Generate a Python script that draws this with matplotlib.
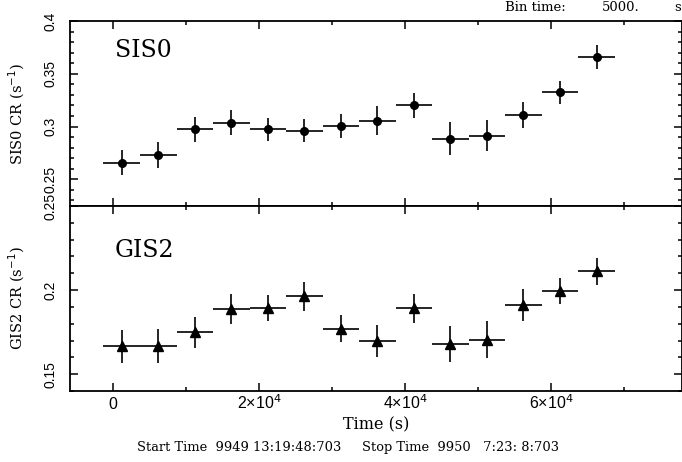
# -*- coding: utf-8 -*-
"""
SIS0 / GIS2 light curves (5000 s bins), PGPLOT-like layout
"""
import matplotlib
matplotlib.use('Agg')
import matplotlib.pyplot as plt
from matplotlib.ticker import MultipleLocator, FixedLocator, FormatStrFormatter

# bin centres (s) and half bin width
time_s = [1230, 6230, 11230, 16230, 21230, 26230, 31230,
          36230, 41230, 46230, 51230, 56230, 61230, 66230]
half_bin = 2500

# SIS0 count rate (s^-1)
sis0_rate = [0.2658, 0.2729, 0.2972, 0.3038, 0.2975, 0.2962, 0.3004,
             0.3054, 0.3200, 0.2886, 0.2912, 0.3108, 0.3323, 0.3658]
sis0_err = [0.0115, 0.0126, 0.0123, 0.0114, 0.0108, 0.0110, 0.0114,
            0.0136, 0.0119, 0.0155, 0.0147, 0.0121, 0.0107, 0.0112]

# GIS2 count rate (s^-1)
gis2_rate = [0.1665, 0.1668, 0.1748, 0.1887, 0.1893, 0.1964, 0.1770,
             0.1698, 0.1891, 0.1679, 0.1706, 0.1911, 0.1996, 0.2111]
gis2_err = [0.0096, 0.0103, 0.0093, 0.0091, 0.0077, 0.0086, 0.0080,
            0.0097, 0.0087, 0.0107, 0.0109, 0.0094, 0.0078, 0.0082]

x_ticks = [0, 20000, 40000, 60000]
x_ticklabels = ['0', '2×10$^4$', '4×10$^4$', '6×10$^4$']

plt.rcParams['font.family'] = ['Liberation Sans', 'DejaVu Sans']
plt.rcParams['mathtext.fontset'] = 'dejavusans'

fig = plt.figure(figsize=(6.82, 4.62), dpi=100, facecolor='w')
ax1 = fig.add_axes([70 / 682, 1 - 206 / 462, 611.5 / 682, 185 / 462])
ax2 = fig.add_axes([70 / 682, 1 - 391 / 462, 611.5 / 682, 185 / 462])

ax1.errorbar(time_s, sis0_rate, xerr=half_bin, yerr=sis0_err, fmt='o',
             color='black', ms=5.5, elinewidth=1.2, capsize=0)
ax2.errorbar(time_s, gis2_rate, xerr=half_bin, yerr=gis2_err, fmt='^',
             color='black', ms=7.5, elinewidth=1.2, capsize=0)

ax1.set_ylim(0.2247, 0.4)
ax2.set_ylim(0.14, 0.25)

for ax in (ax1, ax2):
    ax.set_xlim(-5850, 77860)
    ax.xaxis.set_major_locator(FixedLocator(x_ticks))
    ax.xaxis.set_minor_locator(MultipleLocator(10000))
    ax.yaxis.set_major_locator(MultipleLocator(0.05))
    ax.yaxis.set_minor_locator(MultipleLocator(0.01))
    ax.yaxis.set_major_formatter(FormatStrFormatter('%g'))
    ax.tick_params(which='both', direction='in', top=True, right=True,
                   width=1.1, labelsize=10)
    ax.tick_params(which='major', length=6)
    ax.tick_params(which='minor', length=3)
    ax.tick_params(axis='y', pad=9)
    for lbl in ax.get_yticklabels():
        lbl.set_rotation(90)
        lbl.set_va('center')
    for sp in ax.spines.values():
        sp.set_linewidth(1.3)

ax1.tick_params(labelbottom=False)
ax2.set_xticklabels(x_ticklabels, va='baseline', fontsize=11.5)
ax2.tick_params(axis='x', pad=13.3)

serif = ['DejaVu Serif']
ax1.text(0.0736, 0.805, 'SIS0', transform=ax1.transAxes, fontsize=17,
         family=serif, va='baseline')
ax2.text(0.0736, 0.724, 'GIS2', transform=ax2.transAxes, fontsize=17,
         family=serif, va='baseline')

fig.text(17 / 682, 1 - 113.5 / 462, 'SIS0 CR (s$^{-1}$)', rotation=90,
         ha='center', va='center', fontsize=10.5, family=serif)
fig.text(17 / 682, 1 - 298.5 / 462, 'GIS2 CR (s$^{-1}$)', rotation=90,
         ha='center', va='center', fontsize=10.5, family=serif)

fig.text(375.7 / 682, 1 - 429 / 462, 'Time (s)', ha='center',
         va='baseline', fontsize=11.5, family=serif)
fig.text(348 / 682, 1 - 451 / 462,
         'Start Time  9949 13:19:48:703     Stop Time  9950   7:23: 8:703',
         ha='center', va='baseline', fontsize=9.4, family=serif)

fig.text(505 / 682, 1 - 11 / 462, 'Bin time:', ha='left', va='baseline',
         fontsize=9.5, family=serif)
fig.text(602 / 682, 1 - 11 / 462, '5000.', ha='left', va='baseline',
         fontsize=9.5, family=serif)
fig.text(674 / 682, 1 - 11 / 462, 's', ha='left', va='baseline',
         fontsize=9.5, family=serif)

fig.savefig('out.png', dpi=100, facecolor='w')
plt.close(fig)
